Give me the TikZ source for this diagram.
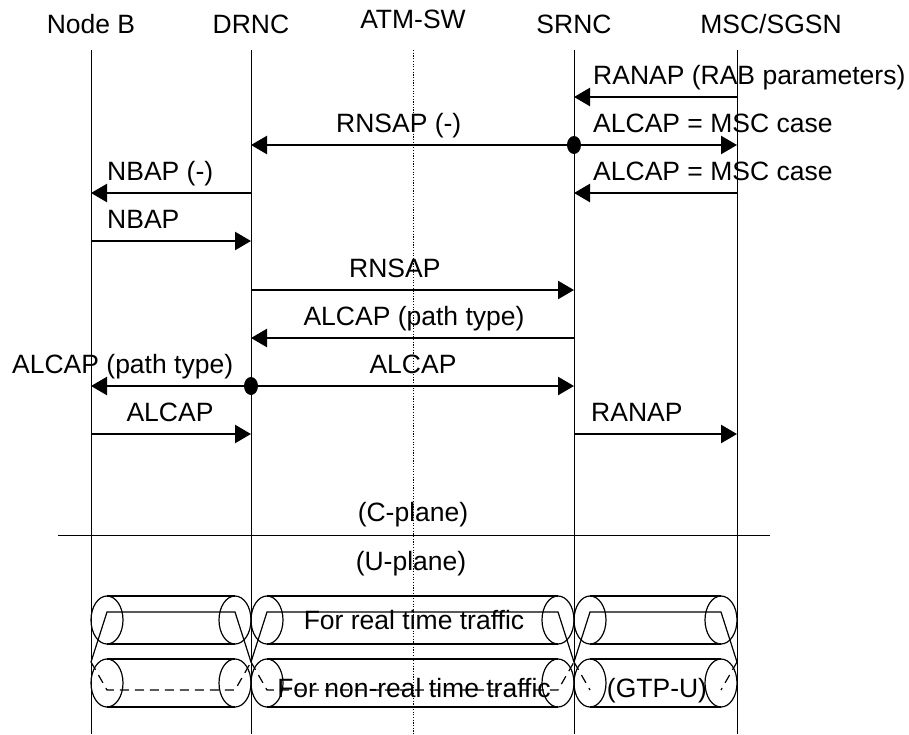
\documentclass[tikz,border=0pt]{standalone}
\usepackage{fontspec}
\setmainfont{Liberation Sans}
\usetikzlibrary{arrows.meta}
\begin{document}
\begin{tikzpicture}[x=1pt,y=-1pt,
  life/.style={line width=1pt},
  atm/.style={line width=0.9pt, dash pattern=on 1.2pt off 1.5pt},
  msg/.style={line width=2.4pt, -{Triangle[length=16pt,width=18pt]}},
  lbl/.style={font=\fontsize{26.5}{30}\selectfont, inner sep=0pt},
  cyl/.style={line width=1.2pt},
  cyldash/.style={line width=1.2pt, dash pattern=on 9pt off 6pt},
  junction/.style={fill=black}]
\useasboundingbox (0,0) rectangle (909,734);
% lifeline heads
\node[lbl, anchor=base] (hB) at (91,33) {Node B};
\node[lbl, anchor=base] (hD) at (251,33) {DRNC};
\node[lbl, anchor=base] (hA) at (413,28) {ATM-SW};
\node[lbl, anchor=base] (hS) at (574,33) {SRNC};
\node[lbl, anchor=base] (hM) at (771,33) {MSC/SGSN};
\coordinate (B) at (91,50);
\coordinate (D) at (251,50);
\coordinate (A) at (413,50);
\coordinate (S) at (574,50);
\coordinate (M) at (737,50);
\coordinate (bot) at (0,734);
\draw[life] (B) -- (B |- bot);
\draw[life] (D) -- (D |- bot);
\draw[atm] (A) -- (A |- bot);
\draw[life] (S) -- (S |- bot);
\draw[life] (M) -- (M |- bot);
% message rows
\coordinate (m1) at (0,97);
\coordinate (m2) at (0,145);
\coordinate (m3) at (0,193);
\coordinate (m4) at (0,241);
\coordinate (m5) at (0,290);
\coordinate (m6) at (0,338);
\coordinate (m7) at (0,386);
\coordinate (m8) at (0,434);
% 1
\draw[msg] (M |- m1) -- (S |- m1);
\node[lbl, anchor=base west] (l1) at (593,84) {RANAP (RAB parameters)};
% 2
\draw[msg] (S |- m2) -- (D |- m2);
\draw[msg] (S |- m2) -- (M |- m2);
\fill[junction] (S |- m2) ellipse (7 and 9);
\node[lbl, anchor=base west] (l2a) at (336,132) {RNSAP (-)};
\node[lbl, anchor=base west] (l2b) at (593,132) {ALCAP = MSC case};
% 3
\draw[msg] (D |- m3) -- (B |- m3);
\draw[msg] (M |- m3) -- (S |- m3);
\node[lbl, anchor=base west] (l3a) at (107,180) {NBAP (-)};
\node[lbl, anchor=base west] (l3b) at (593,180) {ALCAP = MSC case};
% 4
\draw[msg] (B |- m4) -- (D |- m4);
\node[lbl, anchor=base west] (l4) at (107,228) {NBAP};
% 5
\draw[msg] (D |- m5) -- (S |- m5);
\node[lbl, anchor=base west] (l5) at (349,277) {RNSAP};
% 6
\draw[msg] (S |- m6) -- (D |- m6);
\node[lbl, anchor=base] (l6) at (414,325) {ALCAP (path type)};
% 7
\draw[msg] (D |- m7) -- (B |- m7);
\draw[msg] (D |- m7) -- (S |- m7);
\fill[junction] (D |- m7) ellipse (7 and 9);
\node[lbl, anchor=base west] (l7a) at (12,373) {ALCAP (path type)};
\node[lbl, anchor=base] (l7b) at (413,373) {ALCAP};
% 8
\draw[msg] (B |- m8) -- (D |- m8);
\draw[msg] (S |- m8) -- (M |- m8);
\node[lbl, anchor=base] (l8a) at (170,421) {ALCAP};
\node[lbl, anchor=base west] (l8b) at (591,421) {RANAP};
% planes
\node[lbl, anchor=base] (cp) at (413,521) {(C-plane)};
\draw[life] (58,535) -- (770,535);
\node[lbl, anchor=base] (up) at (411,570) {(U-plane)};
% cylinders
\foreach \a/\b in {91/251, 251/574, 574/737}{
  \draw[cyl] (\a+16,596) -- (\b-16,596);
  \draw[cyl] (\a+16,644) -- (\b-16,644);
  \draw[cyl] (\a+16,620) ellipse (16 and 24);
  \draw[cyl] (\b-16,620) ellipse (16 and 24);
  \draw[cyl] (\a,662) -- (\a+16,612) -- (\b-16,612) -- (\b,662);
  \draw[cyl] (\a+16,659) -- (\b-16,659);
  \draw[cyl] (\a+16,707) -- (\b-16,707);
  \draw[cyl] (\a+16,683) ellipse (16 and 24);
  \draw[cyl] (\b-16,683) ellipse (16 and 24);
}
\draw[cyldash] (91,662) -- (107,690) -- (235,690) -- (251,662);
\draw[cyldash] (251,662) -- (267,690) -- (558,690) -- (574,662);
\draw[cyldash] (574,662) -- (590,690);
\draw[cyldash] (737,662) -- (721,690);
\node[lbl, anchor=base] (t1) at (414,629) {For real time traffic};
\node[lbl, anchor=base] (t2) at (414,697) {For non-real time traffic};
\node[lbl, anchor=base] (t3) at (657,697) {(GTP-U)};
\end{tikzpicture}
\end{document}
